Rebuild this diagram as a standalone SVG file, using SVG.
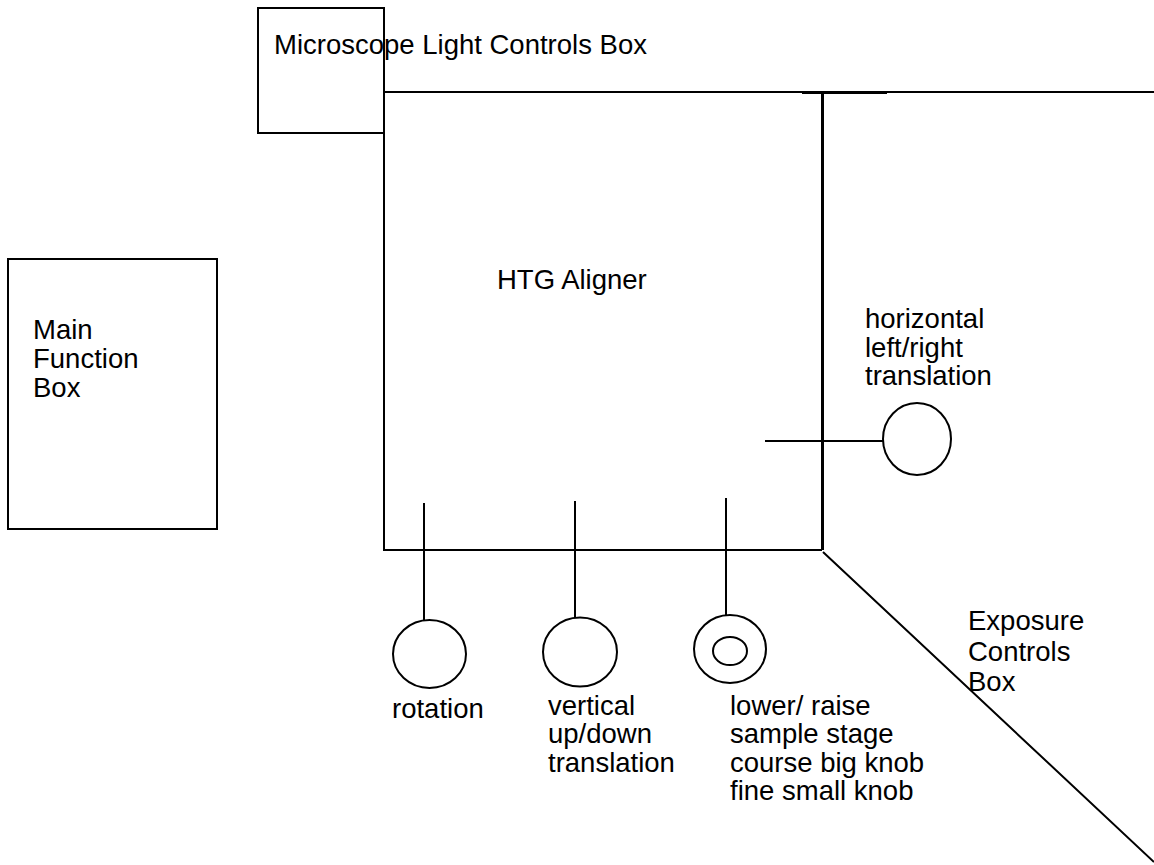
<svg xmlns="http://www.w3.org/2000/svg" width="1154" height="865" viewBox="0 0 1154 865">
<style>
.s{fill:none;stroke:#000;stroke-width:2}
.t{font-family:"Liberation Sans",Arial,sans-serif;font-size:27.5px;fill:#000}
</style>
<rect width="1154" height="865" fill="#fff"/>
<g id="main-function-box">
<rect class="s" x="8" y="259" width="209" height="270"/>
<text class="t"><tspan x="33" y="339">Main</tspan><tspan x="33" y="368">Function</tspan><tspan x="33" y="397">Box</tspan></text>
</g>
<g id="microscope-light-controls-box">
<rect class="s" x="258" y="8" width="126" height="125"/>
<text class="t" x="274" y="54">Microscope Light Controls Box</text>
</g>
<g id="htg-aligner">
<path class="s" d="M384 133V550H822M384 92H1154"/>
<path fill="none" stroke="#000" stroke-width="3" d="M822.5 92V550"/>
<path class="s" d="M802 93H887"/>
<text class="t" x="497" y="289">HTG Aligner</text>
</g>
<g id="exposure-controls-box">
<text class="t"><tspan x="968" y="630">Exposure</tspan><tspan x="968" y="661">Controls</tspan><tspan x="968" y="691">Box</tspan></text>
</g>
<g id="knob-horizontal">
<ellipse class="s" cx="917" cy="439" rx="34" ry="36"/>
<text class="t"><tspan x="865" y="328">horizontal</tspan><tspan x="865" y="357">left/right</tspan><tspan x="865" y="385">translation</tspan></text>
</g>
<g id="knob-rotation">
<ellipse class="s" cx="429.5" cy="654" rx="36.5" ry="34"/>
<text class="t" x="392" y="718">rotation</text>
</g>
<g id="knob-vertical">
<ellipse class="s" cx="580" cy="652" rx="37" ry="34.5"/>
<text class="t"><tspan x="548" y="715">vertical</tspan><tspan x="548" y="743">up/down</tspan><tspan x="548" y="772">translation</tspan></text>
</g>
<g id="knob-lower-raise">
<ellipse class="s" cx="730" cy="649" rx="36" ry="34"/>
<ellipse class="s" cx="730" cy="651" rx="17" ry="14"/>
<text class="t"><tspan x="730" y="715">lower/ raise</tspan><tspan x="730" y="743">sample stage</tspan><tspan x="730" y="772">course big knob</tspan><tspan x="730" y="800">fine small knob</tspan></text>
</g>
<g id="connectors">
<path class="s" d="M424 503V620M575 501V618M726 498V615M765 441H883M823 552L1154 862"/>
</g>
</svg>
